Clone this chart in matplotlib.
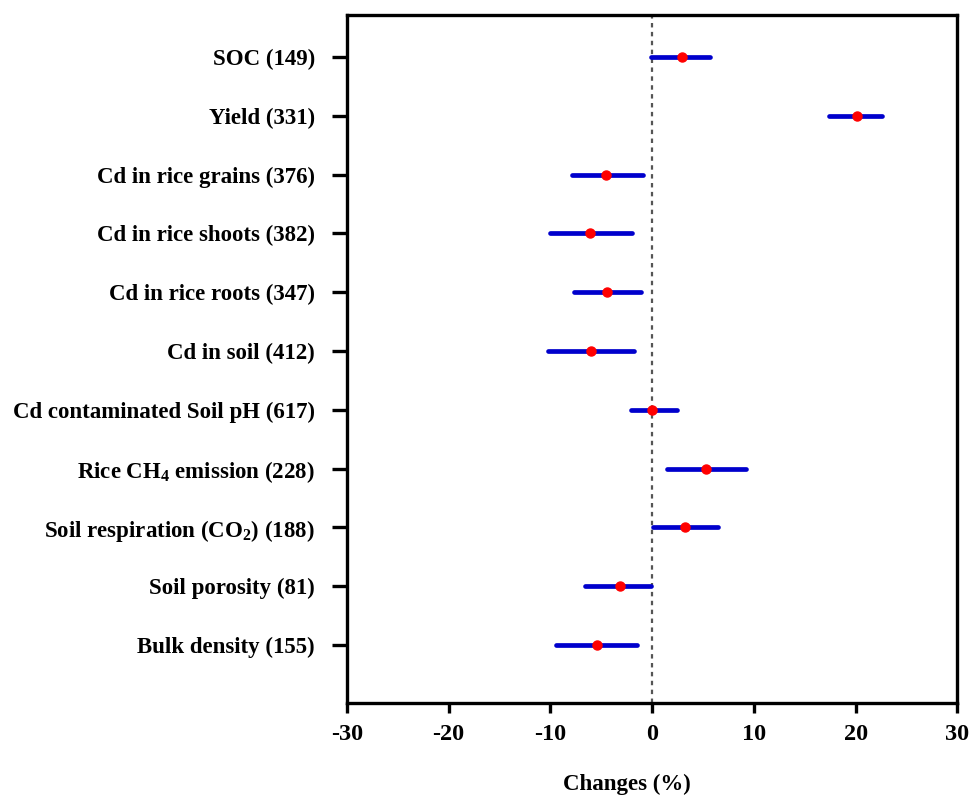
import matplotlib
matplotlib.use("Agg")
import matplotlib.pyplot as plt

plt.rcParams["font.family"] = "Liberation Serif"
plt.rcParams["font.weight"] = "bold"
plt.rcParams["axes.unicode_minus"] = False
plt.rcParams["mathtext.fontset"] = "custom"
plt.rcParams["mathtext.rm"] = "Liberation Serif:bold"
plt.rcParams["mathtext.it"] = "Liberation Serif:bold"
plt.rcParams["mathtext.bf"] = "Liberation Serif:bold"

# top to bottom as in the figure
labels = [
    "SOC (149)",
    "Yield (331)",
    "Cd in rice grains (376)",
    "Cd in rice shoots (382)",
    "Cd in rice roots (347)",
    "Cd in soil (412)",
    "Cd contaminated Soil pH (617)",
    "Rice CH$_4$ emission (228)",
    "Soil respiration (CO$_2$) (188)",
    "Soil porosity (81)",
    "Bulk density (155)",
]
means = [2.9, 20.1, -4.5, -6.1, -4.4, -6.0, 0.0, 5.3, 3.2, -3.2, -5.4]
lower = [-0.1, 17.4, -7.9, -10.0, -7.7, -10.2, -2.1, 1.5, 0.1, -6.6, -9.4]
upper = [5.7, 22.6, -0.9, -2.0, -1.1, -1.8, 2.4, 9.2, 6.5, -0.1, -1.5]

n = len(labels)
ypos = [n - 1 - i for i in range(n)]

fig = plt.figure(figsize=(9.69, 8.01), dpi=100)
ax = fig.add_axes([0.358, 0.122, 0.630, 0.859])

ax.axvline(0, color="#555555", lw=1.6, ls=(0, (2, 2)), zorder=1)
ax.hlines(ypos, lower, upper, color="#0000cc", lw=3.4, capstyle="round", zorder=2)
ax.plot(means, ypos, "o", color="#ff0000", ms=6.5, zorder=3)

ax.set_xlim(-30, 30)
ax.set_ylim(-0.99, 10.71)
ax.set_xticks(range(-30, 31, 10))
ax.set_yticks(ypos)
ax.set_yticklabels(labels)

for s in ax.spines.values():
    s.set_linewidth(2.4)
ax.tick_params(axis="y", length=11, width=2.4, labelsize=16.5, pad=12)
ax.tick_params(axis="x", length=7, width=2.4, labelsize=17.5, pad=8)
ax.set_xlabel("Changes (%)", fontsize=16.5, fontweight="bold")
ax.xaxis.set_label_coords(0.459, -0.102)

plt.savefig("out.png", dpi=100)
